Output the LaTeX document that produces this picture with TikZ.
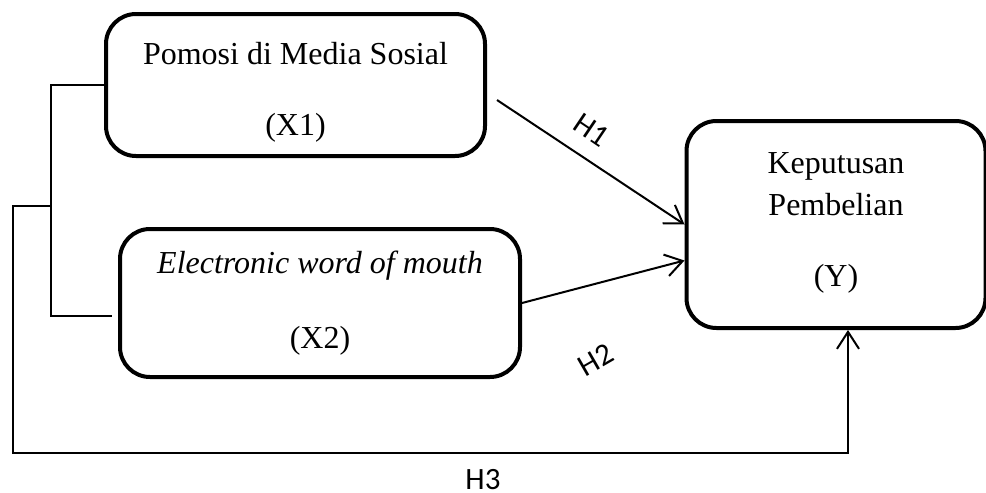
\documentclass[tikz,border=0pt]{standalone}
\usepackage{fontspec}
\setmainfont{Liberation Serif}
\newfontfamily\labelfont{Carlito}
\usetikzlibrary{arrows.meta, positioning}

\begin{document}
\begin{tikzpicture}[
    x=0.5pt, y=-0.5pt,
    box/.style={rectangle, draw, line width=2pt, rounded corners=15pt, align=center, inner sep=0pt,
        font=\fontsize{16}{18.4}\selectfont},
    arrow/.style={-{Straight Barb[length=8.5pt, width=11pt]}, line width=1pt},
    link/.style={line width=0.8pt},
    hyp/.style={inner sep=1pt, font=\labelfont\fontsize{15.5}{18}\selectfont}
]
\useasboundingbox (0,0) rectangle (986,493);

% Nodes
\node[box, minimum width=189.5pt, minimum height=71pt] (promo) at (295.5,85)
    {\rule{0pt}{18.5pt}Pomosi di Media Sosial\\[17pt](X1)};
\node[box, minimum width=200pt, minimum height=74pt] (ewom) at (320,303)
    {\textit{Electronic word of mouth}\\[19pt](X2)};
\node[box, minimum width=149.5pt, minimum height=103.5pt] (keputusan) at (836,224.5)
    {Keputusan\\[2.5pt]Pembelian\\[17pt](Y)\rule[-5pt]{0pt}{5pt}};

% Coordinates
\coordinate (joint) at (51,206);
\coordinate (brk) at (51,316);
\coordinate (brkend) at (112,316);
\coordinate (corner) at (13,206);
\coordinate (loop) at (13,453);
\coordinate (h1start) at (497,100);

% Arrows
\draw[link] (promo.west) -| (brk) -- (brkend);
\draw[arrow] (joint) -- (corner) -- (loop) -| ([xshift=6pt]keputusan.south);
\draw[arrow] (h1start) -- (keputusan.west);
\draw[arrow] (ewom.east) -- ([yshift=-18pt]keputusan.west);

% Labels
\node[hyp, rotate=-34] (h1) at (592,130) {H1};
\node[hyp, rotate=30] (h2) at (596,360) {H2};
\node[hyp] (h3) at (483,480) {H3};

\end{tikzpicture}
\end{document}
